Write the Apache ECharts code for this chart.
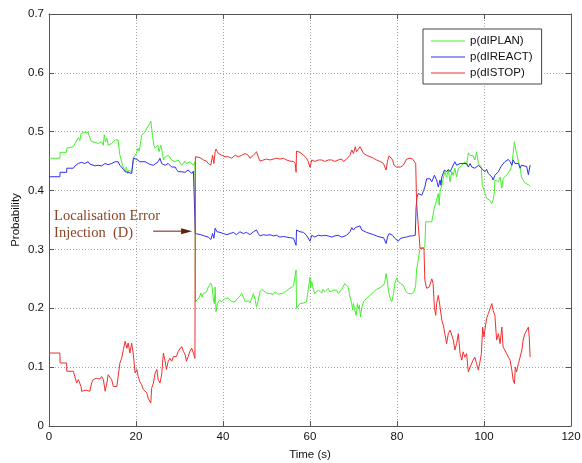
<!DOCTYPE html>
<html>
<head>
<meta charset="utf-8">
<script src="https://cdn.jsdelivr.net/npm/echarts@6.0.0/dist/echarts.min.js"></script>
<style>
  html, body { margin: 0; padding: 0; background: #ffffff; }
  #chart { width: 582px; height: 463px; }
</style>
</head>
<body>
<div id="chart"></div>
<script>
// Decision-mode probabilities over time, [time (s), probability]
const planData = [
  [0,0.455],[2.5,0.455],[2.55,0.465],[4.0,0.465],[4.1,0.472],[4.8,0.473],[5.6,0.475],[6.0,0.480],[6.36,0.483],[6.74,0.490],
  [7.1,0.485],[7.36,0.497],[7.9,0.499],[9.0,0.499],[9.2,0.500],[9.4,0.489],[9.8,0.483],[10.2,0.486],[10.6,0.482],[10.9,0.484],
  [11.3,0.480],[11.7,0.482],[12.1,0.483],[12.5,0.477],[12.7,0.495],[13.0,0.483],[13.3,0.489],[13.6,0.477],[14.0,0.474],[14.4,0.480],
  [14.8,0.483],[15.2,0.486],[15.6,0.489],[15.9,0.486],[16.1,0.472],[16.3,0.460],[16.6,0.452],[16.9,0.443],[17.2,0.438],[17.5,0.432],
  [17.8,0.440],[18.1,0.429],[18.4,0.435],[18.7,0.432],[19.0,0.431],[19.2,0.440],[19.5,0.457],[19.8,0.455],[20.1,0.463],[20.4,0.472],
  [20.7,0.467],[20.9,0.474],[21.3,0.494],[21.7,0.497],[22.1,0.500],[22.5,0.506],[22.8,0.509],[23.2,0.514],[23.4,0.518],[23.6,0.506],
  [23.8,0.494],[24.1,0.477],[24.4,0.472],[24.8,0.469],[25.0,0.477],[25.3,0.466],[25.5,0.472],[25.7,0.477],[26.1,0.463],[26.3,0.452],
  [26.7,0.457],[27.0,0.455],[27.4,0.460],[27.8,0.457],[28.2,0.452],[28.6,0.455],[29.0,0.449],[29.3,0.446],[29.7,0.452],[30.1,0.449],
  [30.5,0.443],[30.9,0.446],[31.3,0.450],[31.6,0.446],[32.0,0.443],[32.4,0.449],[32.8,0.446],[33.2,0.443],[33.55,0.449],
  [33.65,0.211],[34.1,0.214],[34.6,0.219],[34.9,0.226],[35.2,0.219],[35.5,0.225],[35.9,0.222],[36.2,0.228],[36.6,0.236],[37.2,0.243],
  [37.5,0.236],[37.8,0.214],[38.0,0.208],[38.2,0.236],[38.4,0.194],[38.7,0.208],[39.2,0.214],[39.7,0.211],[40.1,0.214],[40.5,0.217],
  [40.9,0.219],[41.2,0.217],[41.6,0.214],[42.0,0.211],[42.4,0.208],[42.8,0.211],[43.1,0.215],[43.7,0.219],[44.3,0.225],[44.7,0.219],
  [45.1,0.211],[45.4,0.209],[45.8,0.213],[46.2,0.209],[46.6,0.211],[47.0,0.225],[47.4,0.214],[47.7,0.202],[48.1,0.214],[48.5,0.228],
  [48.9,0.232],[49.3,0.230],[50.0,0.226],[50.8,0.225],[51.6,0.224],[51.95,0.228],[52.3,0.226],[52.7,0.224],[53.1,0.225],[53.9,0.226],
  [54.6,0.230],[55.4,0.234],[56.2,0.238],[56.6,0.239],[56.8,0.265],[56.9,0.200],[57.3,0.202],[57.7,0.208],[58.5,0.209],[59.2,0.211],
  [59.6,0.214],[60.0,0.253],[60.2,0.236],[60.4,0.245],[60.8,0.231],[61.1,0.225],[61.5,0.222],[61.9,0.231],[62.3,0.228],[62.7,0.226],
  [63.0,0.232],[63.4,0.228],[63.8,0.226],[64.2,0.234],[64.6,0.228],[65.0,0.225],[65.4,0.231],[65.7,0.232],[66.1,0.231],[66.5,0.225],
  [66.9,0.228],[67.3,0.232],[67.7,0.234],[68.0,0.242],[68.4,0.245],[68.8,0.236],[69.2,0.219],[69.6,0.208],[69.8,0.197],[70.0,0.208],
  [70.2,0.200],[70.4,0.197],[70.6,0.188],[70.9,0.208],[71.1,0.200],[71.35,0.205],[71.6,0.185],[71.9,0.200],[72.3,0.211],[72.6,0.214],
  [73.0,0.217],[73.8,0.222],[74.6,0.228],[75.3,0.232],[76.1,0.235],[76.9,0.239],[77.2,0.245],[77.5,0.259],[77.8,0.245],[78.0,0.231],
  [78.4,0.217],[78.8,0.211],[79.2,0.225],[79.5,0.242],[79.9,0.251],[80.3,0.245],[80.85,0.242],[81.45,0.239],[82.1,0.228],[82.6,0.225],
  [83.4,0.225],[83.9,0.228],[84.3,0.239],[84.5,0.265],[84.9,0.265],[85.3,0.302],[85.7,0.304],[86.4,0.304],[86.6,0.347],[88.0,0.347],
  [88.4,0.349],[88.6,0.372],[88.9,0.378],[89.1,0.384],[89.5,0.395],[89.7,0.375],[89.9,0.398],[90.3,0.409],[90.7,0.423],[91.0,0.432],
  [91.4,0.423],[91.8,0.435],[92.2,0.415],[92.6,0.432],[92.9,0.426],[93.3,0.438],[93.7,0.423],[94.1,0.438],[94.5,0.440],[94.9,0.443],
  [95.2,0.440],[95.6,0.449],[96.0,0.443],[96.4,0.464],[96.8,0.460],[97.2,0.457],[97.5,0.459],[97.9,0.452],[98.3,0.466],[98.7,0.446],
  [99.1,0.443],[99.4,0.440],[99.6,0.409],[100.0,0.401],[100.6,0.387],[101.0,0.384],[101.4,0.383],[101.8,0.378],[102.1,0.384],[102.4,0.398],
  [102.5,0.418],[102.9,0.421],[103.3,0.415],[103.7,0.423],[104.1,0.404],[104.4,0.421],[104.8,0.418],[105.2,0.426],[105.6,0.429],[106.0,0.435],
  [106.4,0.443],[106.7,0.463],[107.0,0.483],[107.3,0.469],[107.5,0.463],[107.9,0.449],[108.3,0.440],[108.6,0.423],[109.0,0.418],[109.4,0.413],
  [109.8,0.415],[110.2,0.410],[110.6,0.407]
];

const reactData = [
  [0,0.4235],[2.5,0.4235],[2.55,0.431],[4.05,0.431],[4.1,0.438],[5.6,0.438],[6.0,0.442],[6.36,0.444],[6.74,0.446],[7.5,0.448],
  [8.2,0.446],[9.0,0.449],[9.4,0.445],[9.8,0.443],[10.6,0.442],[11.3,0.443],[12.1,0.442],[12.9,0.446],[13.3,0.449],[13.6,0.444],
  [14.0,0.443],[14.4,0.446],[15.2,0.449],[15.6,0.446],[15.9,0.449],[16.3,0.443],[16.7,0.440],[17.1,0.436],[17.5,0.432],[17.9,0.435],
  [18.2,0.431],[18.6,0.433],[19.0,0.429],[19.4,0.455],[19.8,0.457],[20.2,0.453],[20.5,0.455],[20.9,0.449],[21.3,0.452],[22.1,0.449],
  [22.8,0.446],[23.2,0.447],[23.4,0.444],[23.6,0.446],[24.0,0.443],[24.4,0.446],[25.1,0.449],[25.5,0.455],[25.9,0.446],[26.3,0.449],
  [26.7,0.443],[27.0,0.440],[27.4,0.446],[27.8,0.443],[28.2,0.440],[28.6,0.438],[29.0,0.440],[29.3,0.436],[29.7,0.432],[30.1,0.429],
  [30.5,0.432],[30.9,0.435],[31.3,0.431],[31.6,0.429],[32.0,0.435],[32.4,0.432],[32.8,0.429],[33.2,0.433],[33.55,0.435],
  [33.65,0.327],[34.1,0.324],[34.9,0.325],[35.7,0.323],[36.6,0.321],[37.2,0.317],[37.6,0.327],[37.9,0.319],[38.2,0.336],[38.6,0.330],
  [39.3,0.329],[40.1,0.327],[40.9,0.325],[41.6,0.327],[42.4,0.329],[43.1,0.325],[43.9,0.330],[44.7,0.327],[45.4,0.329],[46.2,0.325],
  [47.0,0.330],[47.7,0.333],[48.1,0.327],[48.5,0.323],[49.3,0.325],[50.0,0.324],[50.8,0.325],[51.6,0.323],[52.3,0.324],[53.1,0.321],
  [53.9,0.322],[54.6,0.321],[55.4,0.320],[56.2,0.319],[56.6,0.319],[56.8,0.307],[56.9,0.333],[57.7,0.330],[58.5,0.329],[59.2,0.324],
  [59.6,0.321],[60.0,0.314],[60.4,0.324],[61.1,0.321],[61.9,0.324],[62.7,0.323],[63.4,0.324],[64.2,0.323],[65.0,0.321],[65.7,0.323],
  [66.5,0.324],[67.3,0.321],[68.4,0.324],[69.2,0.330],[69.6,0.337],[70.0,0.333],[70.4,0.337],[70.7,0.334],[71.5,0.340],[71.9,0.333],
  [72.3,0.330],[73.0,0.329],[73.8,0.327],[74.6,0.325],[75.3,0.323],[76.1,0.321],[76.9,0.320],[77.2,0.317],[77.5,0.310],[77.8,0.321],
  [78.2,0.327],[78.6,0.329],[79.0,0.324],[79.5,0.319],[80.3,0.314],[80.85,0.319],[81.45,0.320],[82.2,0.321],[83.0,0.323],[83.6,0.323],
  [84.2,0.324],[84.4,0.372],[84.6,0.389],[84.9,0.395],[85.3,0.398],[85.7,0.392],[86.1,0.400],[86.4,0.406],[86.8,0.420],[87.2,0.423],
  [87.6,0.420],[88.0,0.415],[88.4,0.418],[88.6,0.426],[88.9,0.429],[89.1,0.418],[89.5,0.406],[89.9,0.418],[90.1,0.409],[90.3,0.423],
  [90.9,0.435],[91.4,0.432],[91.8,0.436],[92.2,0.432],[92.6,0.438],[92.9,0.440],[93.3,0.449],[93.7,0.443],[94.1,0.440],[94.5,0.446],
  [94.9,0.443],[95.2,0.446],[95.6,0.443],[96.0,0.446],[96.4,0.440],[96.8,0.446],[97.2,0.440],[97.5,0.443],[97.9,0.438],[98.3,0.440],
  [98.7,0.443],[99.1,0.443],[99.4,0.438],[99.8,0.435],[100.2,0.432],[100.6,0.436],[101.0,0.429],[101.4,0.432],[101.8,0.423],[102.1,0.418],
  [102.5,0.426],[102.9,0.429],[103.3,0.432],[103.7,0.438],[104.1,0.443],[104.4,0.446],[104.8,0.449],[105.2,0.447],[105.6,0.453],[106.0,0.449],
  [106.4,0.443],[106.7,0.452],[107.1,0.446],[107.5,0.443],[107.9,0.446],[108.3,0.438],[108.6,0.443],[109.0,0.440],[109.8,0.441],[110.2,0.427],
  [110.6,0.4435]
];

const stopData = [
  [0,0.124],[2.5,0.124],[2.55,0.107],[4.05,0.107],[4.1,0.093],[5.6,0.093],[6.0,0.090],[6.36,0.073],[6.74,0.079],[7.0,0.081],
  [7.36,0.067],[7.5,0.059],[8.5,0.061],[9.4,0.059],[9.8,0.073],[10.2,0.079],[10.6,0.076],[10.9,0.081],[11.3,0.079],[11.7,0.080],
  [12.1,0.084],[12.5,0.079],[12.9,0.059],[13.3,0.073],[13.6,0.087],[14.0,0.090],[14.4,0.079],[14.8,0.067],[15.2,0.070],[15.6,0.067],
  [15.9,0.070],[16.3,0.107],[16.7,0.115],[17.1,0.130],[17.5,0.144],[17.9,0.132],[18.2,0.141],[18.6,0.124],[19.0,0.141],[19.4,0.121],
  [19.8,0.090],[20.2,0.096],[20.5,0.084],[20.9,0.075],[21.3,0.070],[21.7,0.062],[22.1,0.059],[22.5,0.056],[22.8,0.047],[23.2,0.044],
  [23.4,0.039],[23.6,0.064],[24.0,0.073],[24.4,0.090],[24.8,0.096],[25.1,0.079],[25.5,0.073],[25.9,0.087],[26.3,0.124],[26.7,0.110],
  [27.0,0.096],[27.4,0.110],[27.8,0.115],[28.2,0.110],[28.6,0.118],[29.0,0.121],[29.3,0.118],[29.7,0.127],[30.1,0.124],[30.5,0.135],
  [30.9,0.127],[31.3,0.121],[31.6,0.110],[32.0,0.118],[32.4,0.127],[32.8,0.132],[33.2,0.124],[33.55,0.115],
  [33.65,0.4575],[33.95,0.455],[34.7,0.456],[35.5,0.452],[36.2,0.450],[36.6,0.446],[37.2,0.443],[37.6,0.460],[37.9,0.446],[38.2,0.466],
  [38.4,0.4705],[38.9,0.463],[39.7,0.460],[40.5,0.4575],[41.2,0.4575],[42.0,0.455],[42.8,0.460],[43.5,0.4575],[44.3,0.460],[45.1,0.463],
  [45.8,0.460],[46.2,0.455],[47.0,0.460],[47.7,0.466],[48.1,0.4575],[48.5,0.450],[49.3,0.452],[50.0,0.4535],[50.8,0.452],[51.6,0.4535],
  [52.3,0.455],[53.1,0.4535],[53.9,0.455],[54.6,0.452],[55.4,0.450],[56.2,0.4495],[56.6,0.446],[56.8,0.431],[56.9,0.467],[57.7,0.465],
  [58.5,0.460],[59.2,0.455],[59.6,0.4495],[60.0,0.4395],[60.4,0.452],[60.8,0.455],[61.1,0.4495],[61.9,0.452],[62.7,0.452],[63.4,0.4495],
  [64.2,0.452],[65.0,0.452],[65.7,0.4495],[66.5,0.452],[67.3,0.4535],[67.7,0.4495],[68.4,0.4535],[69.2,0.460],[69.6,0.469],[70.0,0.463],
  [70.4,0.4745],[70.7,0.466],[71.1,0.463],[71.5,0.4745],[71.9,0.469],[72.3,0.463],[73.0,0.460],[73.8,0.4575],[74.6,0.455],[75.3,0.452],
  [76.1,0.4495],[76.9,0.446],[77.2,0.440],[77.5,0.435],[77.8,0.4495],[78.2,0.459],[78.6,0.460],[79.0,0.452],[79.3,0.443],[79.9,0.440],
  [80.3,0.4395],[80.85,0.440],[81.45,0.443],[82.2,0.4535],[83.0,0.455],[83.6,0.4535],[83.9,0.452],[84.3,0.446],[84.5,0.380],[84.9,0.340],
  [85.3,0.302],[86.2,0.302],[86.4,0.248],[86.8,0.234],[87.4,0.236],[88.0,0.250],[88.3,0.242],[88.6,0.202],[88.9,0.188],[89.1,0.208],
  [89.5,0.222],[89.9,0.202],[90.3,0.180],[90.65,0.171],[91.0,0.157],[91.4,0.140],[91.8,0.157],[92.2,0.163],[92.6,0.166],[92.95,0.146],
  [93.3,0.129],[93.7,0.140],[94.1,0.157],[94.5,0.123],[94.9,0.112],[95.2,0.126],[95.6,0.117],[96.0,0.123],[96.4,0.092],[96.8,0.100],
  [97.2,0.103],[97.5,0.112],[97.9,0.117],[98.3,0.106],[98.7,0.095],[99.0,0.106],[99.4,0.123],[99.7,0.168],[100.0,0.151],[100.2,0.163],
  [100.6,0.183],[101.0,0.191],[101.4,0.200],[101.8,0.208],[102.1,0.196],[102.5,0.188],[102.9,0.146],[103.3,0.157],[103.7,0.140],[104.1,0.168],
  [104.4,0.134],[104.8,0.129],[105.2,0.123],[105.6,0.117],[106.0,0.112],[106.4,0.095],[106.7,0.078],[107.0,0.072],[107.2,0.100],[107.5,0.092],
  [107.9,0.106],[108.3,0.117],[108.7,0.129],[109.0,0.146],[109.4,0.157],[109.8,0.160],[110.2,0.168],[110.4,0.151],[110.6,0.117]
];

const seriesNames = ['p(dIPLAN)', 'p(dIREACT)', 'p(dISTOP)'];
const seriesColors = ['#44f02c', '#2e2ef2', '#f22e2e'];

// Axis ranges
const timeRange = { min: 0, max: 120, step: 20 };
const probRange = { min: 0, max: 0.7, step: 0.1 };

// Annotation: text and the point the arrow touches
const annotationLines = ['Localisation Error', 'Injection  (D)'];
const annotationTip = [32.9, 0.331];

const sansFont = '"Liberation Sans", Arial, Helvetica, sans-serif';
const axisColor = '#555555';

function frameAxis(range, position, withLabels, extra) {
  return Object.assign({
    type: 'value',
    position: position,
    min: range.min,
    max: range.max,
    interval: range.step,
    axisLine: { show: true, onZero: false, lineStyle: { color: axisColor, width: 1 } },
    axisTick: { show: true, inside: true, length: 5, lineStyle: { color: axisColor, width: 1 } },
    axisLabel: { show: withLabels, margin: 5, fontFamily: sansFont, fontSize: 11.5, color: '#111111' },
    splitLine: withLabels
      ? { show: true, lineStyle: { color: '#a8a8a8', width: 1, type: [1, 2] } }
      : { show: false }
  }, extra || {});
}

const chart = echarts.init(document.getElementById('chart'), null, { renderer: 'canvas' });

const datasets = [planData, reactData, stopData];

chart.setOption({
  animation: false,
  backgroundColor: '#ffffff',
  grid: { left: 49, right: 11, top: 14, bottom: 37, containLabel: false, outerBoundsMode: 'none' },
  xAxis: [
    frameAxis(timeRange, 'bottom', true, {
      name: 'Time (s)', nameLocation: 'middle', nameGap: 23, nameMoveOverlap: false,
      nameTextStyle: { fontFamily: sansFont, fontSize: 11.5, color: '#111111' }
    }),
    frameAxis(timeRange, 'top', false)
  ],
  yAxis: [
    frameAxis(probRange, 'left', true, {
      name: 'Probability', nameLocation: 'middle', nameGap: 27, nameRotate: 90, nameMoveOverlap: false,
      nameTextStyle: { fontFamily: sansFont, fontSize: 11.5, color: '#111111' }
    }),
    frameAxis(probRange, 'right', false)
  ],
  legend: {
    orient: 'vertical',
    left: 423,
    top: 29,
    padding: [6, 9, 5, 8],
    itemGap: 4,
    itemWidth: 34,
    itemHeight: 1,
    icon: 'rect',
    backgroundColor: '#ffffff',
    borderColor: '#444444',
    borderWidth: 1,
    borderRadius: 0,
    textStyle: { fontFamily: sansFont, fontSize: 11.5, color: '#111111' },
    data: seriesNames
  },
  series: seriesNames.map(function (name, i) {
    return {
      type: 'line',
      name: name,
      data: datasets[i],
      xAxisIndex: 0,
      yAxisIndex: 0,
      symbol: 'none',
      showSymbol: false,
      lineStyle: { color: seriesColors[i], width: 1 },
      itemStyle: { color: seriesColors[i] },
      emphasis: { disabled: true },
      silent: true
    };
  })
});

// Annotation with arrow, anchored at a data coordinate
const tip = chart.convertToPixel({ xAxisIndex: 0, yAxisIndex: 0 }, annotationTip);
const brown = '#8a4526';
const serifFont = '14.5px "Liberation Serif", "DejaVu Serif", serif';
chart.setOption({
  graphic: [
    { type: 'text', x: tip[0] - 138, y: tip[1] - 22, silent: true,
      style: { text: annotationLines[0], font: serifFont, fill: brown } },
    { type: 'text', x: tip[0] - 138, y: tip[1] - 5, silent: true,
      style: { text: annotationLines[1], font: serifFont, fill: brown } },
    { type: 'line', silent: true,
      shape: { x1: tip[0] - 39, y1: tip[1], x2: tip[0] - 9, y2: tip[1] },
      style: { stroke: brown, lineWidth: 1.2 } },
    { type: 'polygon', silent: true,
      shape: { points: [[tip[0], tip[1]], [tip[0] - 11, tip[1] - 3], [tip[0] - 11, tip[1] + 3]] },
      style: { fill: '#5a230c' } }
  ]
});
</script>
</body>
</html>
